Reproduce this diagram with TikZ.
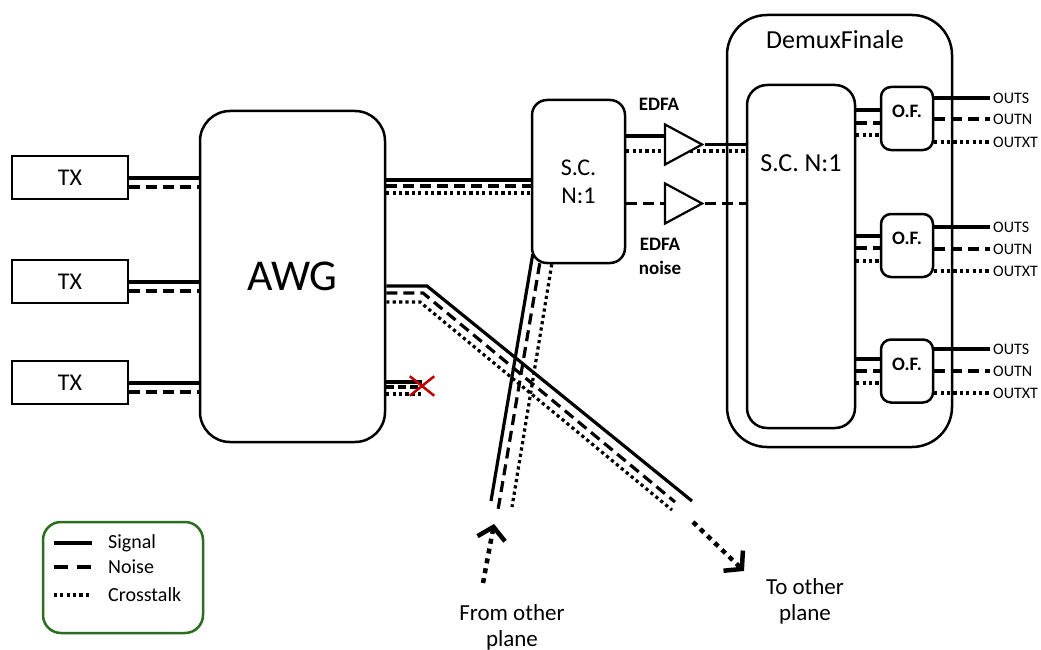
\documentclass[tikz,border=0pt]{standalone}
\usepackage{fontspec}
\setmainfont{Carlito}
\usetikzlibrary{shapes.geometric,shapes.misc,arrows.meta,calc,backgrounds}
\definecolor{legendgreen}{RGB}{40,110,30}
\definecolor{cutred}{RGB}{192,0,0}

\begin{document}
\begin{tikzpicture}[x=1pt,y=-1pt,
  box/.style={draw,line width=2.5pt,inner sep=0pt},
  rbox/.style={box,rounded corners=#1},
  sig/.style={line width=3.2pt},
  noi/.style={line width=3.2pt,dash pattern=on 11pt off 6pt},
  xt/.style={line width=3.2pt,dash pattern=on 3.2pt off 3.2pt},
  amp/.style={draw,fill=white,line width=2.2pt,isosceles triangle,
    isosceles triangle stretches,minimum width=40pt,minimum height=37pt,inner sep=0pt},
  planearrow/.style={line width=4.5pt,dash pattern=on 5pt off 5pt,
    -{Straight Barb[length=12pt,width=28pt]}},
  txt/.style={font=\fontsize{24}{28}\selectfont},
  bigtxt/.style={font=\fontsize{26}{30}\selectfont},
  boldlbl/.style={font=\fontsize{19}{24}\selectfont\bfseries,align=center},
  outlbl/.style={font=\fontsize{16}{18}\selectfont,inner sep=3pt,anchor=west},
  leglbl/.style={font=\fontsize{20}{24}\selectfont,inner sep=0pt,anchor=west},
  planelbl/.style={font=\fontsize{23}{26}\selectfont,align=center},
]
\useasboundingbox (0,0) rectangle (1041,650);

% transmitters and the AWG
\node[box,txt,minimum width=116pt,minimum height=43pt] (tx1) at (70,177.5) {TX};
\node[box,txt,minimum width=116pt,minimum height=43pt] (tx2) at (70,281.5) {TX};
\node[box,txt,minimum width=116pt,minimum height=43pt] (tx3) at (70,382.5) {TX};
\node[rbox=30pt,minimum width=185pt,minimum height=331pt,font=\fontsize{44}{50}\selectfont]
  (awg) at (292.5,276.5) {AWG};

% first-stage star coupler
\node[rbox=15pt,txt,align=center,minimum width=93pt,minimum height=163pt]
  (sc) at (578.5,181.5) {S.C.\\N:1};

% final demultiplexer
\node[rbox=40pt,minimum width=225pt,minimum height=432pt] (demux) at (839.5,231) {};
\node[bigtxt] (demuxlbl) at (835,40) {DemuxFinale};
\node[rbox=20pt,minimum width=108pt,minimum height=343pt] (sc2) at (801,256.5) {};
\node[bigtxt] (sc2lbl) at (801,163) {S.C. N:1};
\node[rbox=10pt,minimum width=52pt,minimum height=63pt] (of1) at (907,118.5) {};
\node[rbox=10pt,minimum width=52pt,minimum height=63pt] (of2) at (907,245.5) {};
\node[rbox=10pt,minimum width=52pt,minimum height=63pt] (of3) at (907,371) {};
\foreach \k in {1,2,3}
  \node[boldlbl] (of\k lbl) at ($(of\k.center)+(0,-7)$) {O.F.};

% amplifiers
\node[amp] (amp1) at (677,144.5) {};
\node[amp] (amp2) at (677,203.5) {};
\node[boldlbl] (amp1lbl) at (659,104) {EDFA};
\node[boldlbl] (amp2lbl) at (660,256) {EDFA\\noise};

% blocked AWG port
\node[cross out,draw=cutred,line width=2.5pt,minimum width=22pt,minimum height=17pt,inner sep=0pt]
  (cut) at (422,386) {};

% ends of the links to and from the other plane
\coordinate (toS) at (692,501);
\coordinate (toN) at (675,502);
\coordinate (toX) at (672,510);
\coordinate (fromS) at (491,501);
\coordinate (fromN) at (498,510);
\coordinate (fromX) at (512,507);
\coordinate (inTail) at (483,583);
\coordinate (inHead) at (494,524);
\coordinate (outTail) at (693,522);
\coordinate (outHead) at (744,571);

\node[planelbl] (fromlbl) at (512,627) {From other\\plane};
\node[planelbl] (tolbl) at (805,601) {To other\\plane};

\begin{pgfonlayer}{background}
  % TX to AWG
  \foreach \n/\ys/\yn in {1/178/187, 2/282/291, 3/383/392} {
    \draw[sig] (tx\n.east |- 0,\ys) -- (awg.west |- 0,\ys);
    \draw[noi] (tx\n.east |- 0,\yn) -- (awg.west |- 0,\yn);
  }
  % AWG to star coupler
  \draw[sig] (awg.east |- 0,180) -- (sc.west |- 0,180);
  \draw[noi] (awg.east |- 0,186) -- (sc.west |- 0,186);
  \draw[xt]  (awg.east |- 0,193) -- (sc.west |- 0,193);
  % AWG towards the other plane
  \draw[sig] (awg.east |- 0,286) -- (427,286) -- (toS);
  \draw[noi] (awg.east |- 0,293) -- (423,293) -- (toN);
  \draw[xt]  (awg.east |- 0,302) -- (420,302) -- (toX);
  % AWG port that is cut off
  \draw[sig] (awg.east |- 0,382) -- (cut.center |- 0,382);
  \draw[noi,dash pattern=on 8pt off 4pt] (awg.east |- 0,387) -- (cut.center |- 0,387);
  \draw[xt]  (awg.east |- 0,394) -- (cut.center |- 0,394);
  % from the other plane into the star coupler
  \draw[sig] ($(sc.south west)+(2,-10)$) -- (fromS);
  \draw[noi] ($(sc.south west)+(9,-1)$) -- (fromN);
  \draw[xt]  ($(sc.south west)+(21,0)$) -- (fromX);
  % star coupler through the amplifiers
  \draw[sig] (sc.east |- 0,136) -- (amp1.west |- 0,136);
  \draw[sig] (amp1.east) -- (sc2.west |- amp1.east);
  \draw[xt]  (sc.east |- 0,151) -- (sc2.west |- 0,151);
  \draw[noi] (sc.east |- amp2.west) -- (amp2.west);
  \draw[noi] (amp2.east) -- (sc2.west |- amp2.east);
  % inner coupler to filters and outputs
  \foreach \k/\ys/\yn/\yx/\is/\in/\ix in
      {1/98/119/142/110/123/135, 2/227/249/271/236/248/261, 3/349/371/393/359/371/383} {
    \draw[sig] (sc2.east |- 0,\is) -- (of\k.west |- 0,\is);
    \draw[noi] (sc2.east |- 0,\in) -- (of\k.west |- 0,\in);
    \draw[xt]  (sc2.east |- 0,\ix) -- (of\k.west |- 0,\ix);
    \node[outlbl] (out\k s) at (990,\ys) {OUTS};
    \node[outlbl] (out\k n) at (990,\yn) {OUTN};
    \node[outlbl] (out\k x) at (990,\yx) {OUTXT};
    \draw[sig] (of\k.east |- out\k s) -- (out\k s.west);
    \draw[noi] (of\k.east |- out\k n) -- (out\k n.west);
    \draw[xt]  (of\k.east |- out\k x) -- (out\k x.west);
  }
\end{pgfonlayer}

% links to and from the other plane
\draw[planearrow] (inTail) -- (inHead);
\draw[planearrow] (outTail) -- (outHead);

% legend
\node[rbox=18pt,draw=legendgreen,minimum width=160pt,minimum height=111pt] (legend) at (123,577.5) {};
\node[leglbl] (legS) at (108,543) {Signal};
\node[leglbl] (legN) at (108,567) {Noise};
\node[leglbl] (legX) at (108,595) {Crosstalk};
\draw[sig] ($(legend.west |- legS)+(12,0)$) -- ($(legS.west)+(-16,0)$);
\draw[sig,dash pattern=on 14pt off 9pt] ($(legend.west |- legN)+(12,0)$) -- ($(legN.west)+(-16,0)$);
\draw[xt] ($(legend.west |- legX)+(12,0)$) -- ($(legX.west)+(-16,0)$);
\end{tikzpicture}
\end{document}
